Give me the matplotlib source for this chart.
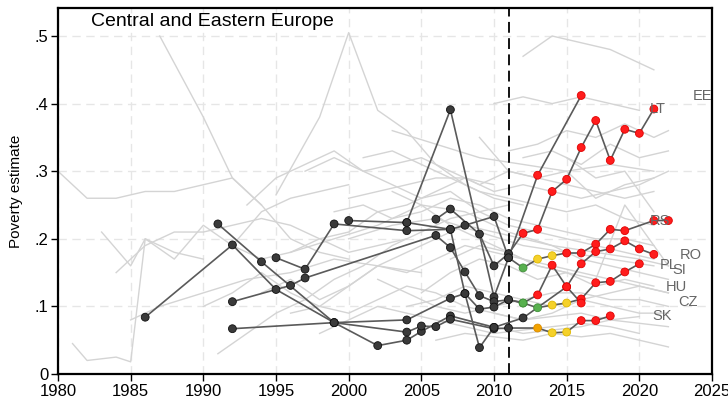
import matplotlib
matplotlib.use("Agg")
import matplotlib.pyplot as plt

# fonts: Stata-like sans
plt.rcParams['font.family'] = ['Liberation Sans Narrow', 'Liberation Sans', 'DejaVu Sans']

# background countries (light gray), years / estimates
gray_lines = [
    ([1980, 1982, 1984, 1986, 1988, 1990, 1992, 1994], [.30, .26, .26, .27, .27, .28, .29, .25]),
    ([1981, 1982, 1984, 1985, 1986, 1988, 1990], [.045, .02, .025, .018, .20, .18, .17]),
    ([1987, 1990, 1992, 1994, 1996, 1998, 2000], [.50, .38, .29, .25, .20, .18, .17]),
    ([1995, 1998, 2000, 2002, 2004, 2006, 2008, 2010, 2012], [.265, .38, .505, .39, .36, .31, .28, .26, .25]),
    ([1983, 1985, 1986, 1988, 1990, 1992, 1994, 1996, 1998, 2000], [.21, .16, .20, .17, .22, .19, .24, .26, .27, .28]),
    ([1984, 1986, 1988, 1990, 1992, 1994, 1996, 1998, 2000, 2002, 2004], [.15, .19, .21, .21, .22, .23, .22, .20, .18, .19, .20]),
    ([1985, 1987, 1990, 1993, 1996, 1999, 2002, 2005], [.08, .10, .12, .14, .15, .17, .16, .15]),
    ([1990, 1992, 1994, 1996, 1998, 2000, 2002, 2004, 2006, 2008, 2010, 2012, 2014, 2016, 2018, 2020],
     [.10, .12, .15, .12, .10, .09, .11, .13, .12, .10, .09, .08, .085, .09, .08, .085]),
    ([1993, 1995, 1997, 1999, 2001, 2003, 2005, 2007, 2009, 2011, 2013, 2015, 2017, 2019, 2021],
     [.25, .29, .31, .33, .30, .28, .26, .27, .24, .22, .21, .20, .19, .18, .17]),
    ([1996, 1998, 2000, 2002, 2004, 2006, 2008, 2010, 2012, 2014, 2016, 2018, 2020, 2022],
     [.09, .10, .13, .16, .18, .20, .22, .21, .20, .19, .17, .16, .15, .14]),
    ([1997, 1999, 2001, 2003, 2005, 2007, 2009, 2011, 2013, 2015, 2017, 2019, 2021],
     [.30, .32, .30, .31, .32, .30, .28, .30, .29, .28, .27, .26, .27]),
    ([2000, 2002, 2004, 2006, 2008, 2010, 2012, 2014, 2016, 2018, 2020, 2022],
     [.26, .27, .28, .29, .29, .27, .28, .27, .26, .27, .28, .30]),
    ([1998, 2000, 2002, 2004, 2006, 2008, 2010, 2012, 2014, 2016, 2018, 2020],
     [.06, .08, .10, .09, .08, .07, .06, .065, .07, .075, .07, .06]),
    ([2002, 2004, 2006, 2008, 2010, 2012, 2014, 2016, 2018, 2020, 2022],
     [.14, .12, .10, .09, .10, .11, .12, .12, .11, .11, .10]),
    ([1991, 1993, 1995, 1997, 1999, 2001, 2003, 2005, 2007, 2009, 2011],
     [.03, .06, .09, .11, .14, .16, .19, .21, .23, .24, .25]),
    ([2010, 2012, 2014, 2016, 2018, 2020], [.40, .41, .40, .41, .40, .39]),
    ([2012, 2014, 2016, 2018, 2020, 2021], [.47, .50, .49, .48, .46, .45]),
    ([2011, 2013, 2015, 2017, 2019, 2021, 2022], [.33, .34, .36, .35, .37, .35, .36]),
    ([2012, 2014, 2016, 2018, 2020, 2022], [.32, .33, .31, .34, .32, .33]),
    ([2005, 2007, 2009, 2011, 2013, 2015, 2017, 2019, 2021], [.12, .15, .17, .16, .14, .15, .13, .14, .13]),
    ([2000, 2003, 2006, 2009, 2012, 2015, 2018, 2021], [.20, .22, .23, .21, .19, .18, .17, .16]),
    ([1999, 2001, 2003, 2005, 2007, 2009, 2011, 2013, 2015, 2017, 2019, 2021],
     [.24, .25, .23, .24, .26, .25, .23, .22, .21, .20, .20, .19]),
    ([2004, 2006, 2008, 2010, 2012, 2014, 2016, 2018, 2020, 2022], [.10, .11, .13, .12, .11, .10, .11, .12, .13, .12]),
    ([2006, 2008, 2010, 2012, 2014, 2016, 2018, 2020, 2022], [.05, .06, .055, .05, .06, .055, .06, .05, .04]),
    ([2008, 2010, 2012, 2014, 2016, 2018, 2020, 2022], [.08, .07, .06, .065, .07, .08, .075, .07]),
    ([1992, 1994, 1996, 1998, 2000, 2002, 2004, 2006, 2008, 2010], [.19, .17, .18, .20, .21, .24, .25, .27, .29, .28]),
    ([1994, 1996, 1998, 2000, 2002, 2004, 2006, 2008, 2010, 2012, 2014, 2016, 2018, 2020, 2022],
     [.12, .14, .11, .13, .16, .15, .17, .19, .18, .17, .16, .15, .14, .13, .12]),
    ([2015, 2017, 2019, 2021], [.32, .29, .30, .24]),
    ([2009, 2011, 2013, 2015, 2017, 2019, 2021], [.35, .30, .29, .30, .26, .28, .29]),
    ([2003, 2005, 2007, 2009, 2011, 2013, 2015], [.27, .25, .22, .20, .18, .16, .15]),
    ([2001, 2003, 2005, 2007, 2009, 2011, 2013, 2015, 2017, 2019, 2021],
     [.32, .33, .31, .29, .27, .26, .25, .24, .25, .23, .22]),
    ([1996, 1999, 2002, 2005, 2008, 2011, 2014, 2017, 2020, 2022], [.18, .20, .22, .25, .24, .21, .19, .18, .17, .16]),
    ([2007, 2009, 2011, 2013, 2015, 2017, 2019, 2021, 2022], [.17, .19, .18, .16, .15, .14, .25, .19, .16]),
    ([2010, 2012, 2014, 2016, 2018, 2020, 2022], [.09, .08, .09, .11, .10, .09, .09]),
    ([2003, 2006, 2009, 2012, 2015, 2018, 2021], [.36, .34, .32, .31, .30, .31, .30]),
]

# highlighted countries: years, estimates, source category per point
EE_years = [2000, 2004, 2007, 2010, 2011, 2013, 2016]
EE_vals = [.227, .224, .391, .114, .172, .294, .412]
EE_src = ['B', 'B', 'B', 'B', 'B', 'R', 'R']

LT_years = [2006, 2007, 2009, 2010, 2011, 2012, 2013, 2014, 2015, 2016, 2017, 2018, 2019, 2020, 2021]
LT_vals = [.229, .244, .207, .160, .178, .208, .214, .270, .288, .335, .375, .316, .362, .356, .392]
LT_src = ['B'] * 5 + ['R'] * 10

RS_years = [1995, 1997, 1999, 2004, 2007, 2008, 2010, 2011, 2012, 2013, 2014, 2015, 2016, 2017, 2018, 2019, 2021, 2022]
RS_vals = [.172, .155, .222, .212, .214, .220, .233, .172, .157, .170, .175, .179, .179, .192, .214, .212, .227, .227]
RS_src = ['B'] * 8 + ['G', 'Y', 'Y'] + ['R'] * 7

RO_years = [1992, 1996, 1997, 2006, 2007, 2008, 2009, 2010, 2011, 2012, 2013, 2014, 2015, 2016, 2017, 2018, 2019, 2020, 2021]
RO_vals = [.107, .131, .142, .205, .187, .151, .116, .107, .110, .105, .117, .161, .129, .163, .181, .185, .197, .185, .177]
RO_src = ['B'] * 9 + ['G'] + ['R'] * 9

PL_years = [1986, 1992, 1995, 1999, 2004, 2007, 2008, 2009, 2010, 2011, 2012, 2013, 2014, 2015, 2016, 2017, 2018, 2019, 2020]
PL_vals = [.084, .191, .125, .076, .080, .112, .119, .096, .099, .110, .105, .098, .102, .105, .111, .135, .137, .151, .163]
PL_src = ['B'] * 10 + ['G', 'G', 'Y', 'Y'] + ['R'] * 5

HU_years = [1991, 1994, 1999, 2002, 2004, 2005, 2007, 2010, 2012, 2015, 2016]
HU_vals = [.222, .166, .076, .042, .050, .063, .086, .069, .083, .129, .105]
HU_src = ['B'] * 9 + ['R', 'R']

SK_years = [1992, 1999, 2004, 2005, 2006, 2007, 2010, 2011, 2013, 2014, 2015, 2016, 2017, 2018]
SK_vals = [.067, .076, .062, .071, .070, .081, .067, .068, .068, .061, .062, .079, .079, .086]
SK_src = ['B'] * 8 + ['O', 'Y', 'Y', 'R', 'R', 'R']

SI_years = [2004, 2007, 2008, 2009, 2010]
SI_vals = [.224, .214, .119, .039, .069]
SI_src = ['B'] * 5

# country labels at the right end
label_names = ['EE', 'LT', 'RS', 'RO', 'PL', 'SI', 'HU', 'CZ', 'SK']
label_x = [2023.7, 2020.7, 2020.7, 2022.8, 2021.4, 2022.3, 2021.8, 2022.7, 2020.9]
label_y = [.411, .392, .226, .176, .161, .154, .129, .107, .086]

src_colors = {'B': '#3a3a3a', 'G': '#58b04f', 'Y': '#f5d12a', 'O': '#f2a300', 'R': '#ff1c1c'}
src_edges = {'B': '#111111', 'G': '#3f8f38', 'Y': '#e0b800', 'O': '#d98a00', 'R': '#e00000'}

highlighted = [
    (EE_years, EE_vals, EE_src),
    (LT_years, LT_vals, LT_src),
    (RS_years, RS_vals, RS_src),
    (RO_years, RO_vals, RO_src),
    (PL_years, PL_vals, PL_src),
    (HU_years, HU_vals, HU_src),
    (SK_years, SK_vals, SK_src),
    (SI_years, SI_vals, SI_src),
]

fig = plt.figure(figsize=(7.28, 3.98), dpi=100)
ax = fig.add_axes([58 / 728, 1 - 374 / 398, (712 - 58) / 728, (374 - 8) / 398])

for yrs, vals in gray_lines:
    ax.plot(yrs, vals, color='#d4d4d4', lw=1.0, zorder=1)

for yrs, vals, src in highlighted:
    ax.plot(yrs, vals, color='#5a5a5a', lw=1.2, zorder=3)
    ax.scatter(yrs, vals, s=32, c=[src_colors[s] for s in src],
               edgecolors=[src_edges[s] for s in src], linewidths=0.6, zorder=4)

for name, x, y in zip(label_names, label_x, label_y):
    ax.text(x, y, name, color='#666666', fontsize=10.5, ha='left', va='center',
            family=['Liberation Sans', 'DejaVu Sans'], zorder=5)

ax.axvline(2011, color='black', lw=1.3, ls=(0, (6, 3)), zorder=2)

ax.set_xlim(1980, 2025)
ax.set_ylim(0, (374 - 8) / 676)
ax.set_xticks(range(1980, 2026, 5))
ax.set_yticks([0, .1, .2, .3, .4, .5])
ax.set_yticklabels(['0', '.1', '.2', '.3', '.4', '.5'])
ax.tick_params(labelsize=12, length=5, width=1, direction='out', pad=2)
ax.grid(True, color='#e6e6e6', ls=(0, (6, 4)), lw=1.0)
ax.set_axisbelow(True)
for sp in ax.spines.values():
    sp.set_linewidth(1.6)
    sp.set_color('black')

ax.set_ylabel('Poverty estimate', fontsize=11, labelpad=8,
              family=['Liberation Sans', 'DejaVu Sans'])
ax.text(0.05, 0.985, 'Central and Eastern Europe', transform=ax.transAxes,
        fontsize=14, va='top', ha='left', family=['Liberation Sans', 'DejaVu Sans'])

fig.savefig('out.png', dpi=100)
